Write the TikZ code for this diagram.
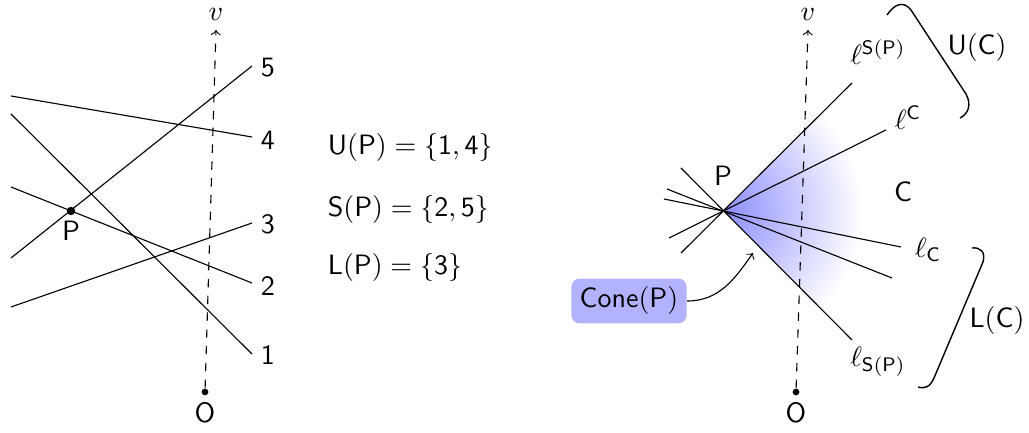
\documentclass[tikz,border=0pt]{standalone}
\renewcommand\familydefault{\sfdefault}
\begin{document}
\begin{tikzpicture}[x=0.357pt,y=-0.357pt,
  axis/.style={dashed,->},
  dot/.style={circle,fill,inner sep=0pt,minimum size=2.4pt},
  bigdot/.style={circle,fill,inner sep=0pt,minimum size=3pt},
  brk/.style={line width=0.5pt},
  conebox/.style={fill=blue!30,rounded corners=3pt,inner sep=3pt}]
\useasboundingbox (0,0) rectangle (1029,433);

% ---------------- left figure ----------------
\node[dot] (O1) at (205,392) {};
\coordinate (V1) at (216,30);
\draw[axis] (O1) -- (V1);
\node[inner sep=1pt] (v1) at (216,14) {$v$};
\node (o1) at (205,413) {$\mathsf{O}$};

\coordinate (a5) at (11,258); \coordinate (b5) at (252,66);
\coordinate (a4) at (11,96);  \coordinate (b4) at (252,137);
\coordinate (a1) at (11,114); \coordinate (b1) at (252,354);
\coordinate (a2) at (11,187); \coordinate (b2) at (252,283);
\coordinate (a3) at (11,307); \coordinate (b3) at (252,223);
\draw (a5) -- (b5);
\draw (a4) -- (b4);
\draw (a1) -- (b1);
\draw (a2) -- (b2);
\draw (a3) -- (b3);
\node (n5) at (268,67)  {$\mathsf{5}$};
\node (n4) at (268,140) {$\mathsf{4}$};
\node (n3) at (268,224) {$\mathsf{3}$};
\node (n2) at (268,286) {$\mathsf{2}$};
\node (n1) at (268,355) {$\mathsf{1}$};

\node[bigdot] (P1) at (71,211) {};
\node (p1) at (71,231) {$\mathsf{P}$};

\node[anchor=west] (up) at (318,147) {$\mathsf{U(P)} = \{\mathsf{1},\mathsf{4}\}$};
\node[anchor=west] (sp) at (318,210) {$\mathsf{S(P)} = \{\mathsf{2},\mathsf{5}\}$};
\node[anchor=west] (lp) at (318,268) {$\mathsf{L(P)} = \{\mathsf{3}\}$};

% ---------------- right figure ----------------
\coordinate (P2) at (724,211);
\begin{scope}
  \clip (P2) -- (1000,-65) -- (1000,487) -- cycle;
  \shade[inner color=blue!45,outer color=white] (P2) circle (138);
\end{scope}

\node[dot] (O2) at (796,392) {};
\coordinate (V2) at (808,30);
\draw[axis] (O2) -- (V2);
\node[inner sep=1pt] (v2) at (808,14) {$v$};
\node (o2) at (796,413) {$\mathsf{O}$};

\coordinate (c1a) at (681,253); \coordinate (c1b) at (852,83);
\coordinate (c2a) at (669,238); \coordinate (c2b) at (886,130);
\coordinate (c3a) at (664,199); \coordinate (c3b) at (901,247);
\coordinate (c4a) at (667,189); \coordinate (c4b) at (892,278);
\coordinate (c5a) at (681,168); \coordinate (c5b) at (852,340);
\draw (c1a) -- (c1b);
\draw (c2a) -- (c2b);
\draw (c3a) -- (c3b);
\draw (c4a) -- (c4b);
\draw (c5a) -- (c5b);

\node (p2) at (723,176) {$\mathsf{P}$};
\node (lSP) at (878,52) {$\ell^{\mathsf{S(P)}}$};
\node (lC) at (908,118) {$\ell^{\mathsf{C}}$};
\node (C) at (903,192) {$\mathsf{C}$};
\node (lc) at (928,250) {$\ell_{\mathsf{C}}$};
\node (lsp) at (878,362) {$\ell_{\mathsf{S(P)}}$};

\node (UC) at (977,47) {$\mathsf{U(C)}$};
\node (LC) at (997,320) {$\mathsf{L(C)}$};

\draw[brk] (887,15) .. controls (895,3) and (904,1) .. (911,10)
  -- (966,94) .. controls (972,105) and (968,114) .. (960,118);
\draw[brk] (972,248) .. controls (980,247) and (986,252) .. (983,262)
  -- (934,378) .. controls (930,387) and (925,389) .. (918,387);

\node[conebox] (cone) at (629,301) {Cone$(\mathsf{P})$};
\coordinate (conetip) at (753,253);
\draw[->] (cone.east) to[out=0,in=235] (conetip);
\end{tikzpicture}
\end{document}
